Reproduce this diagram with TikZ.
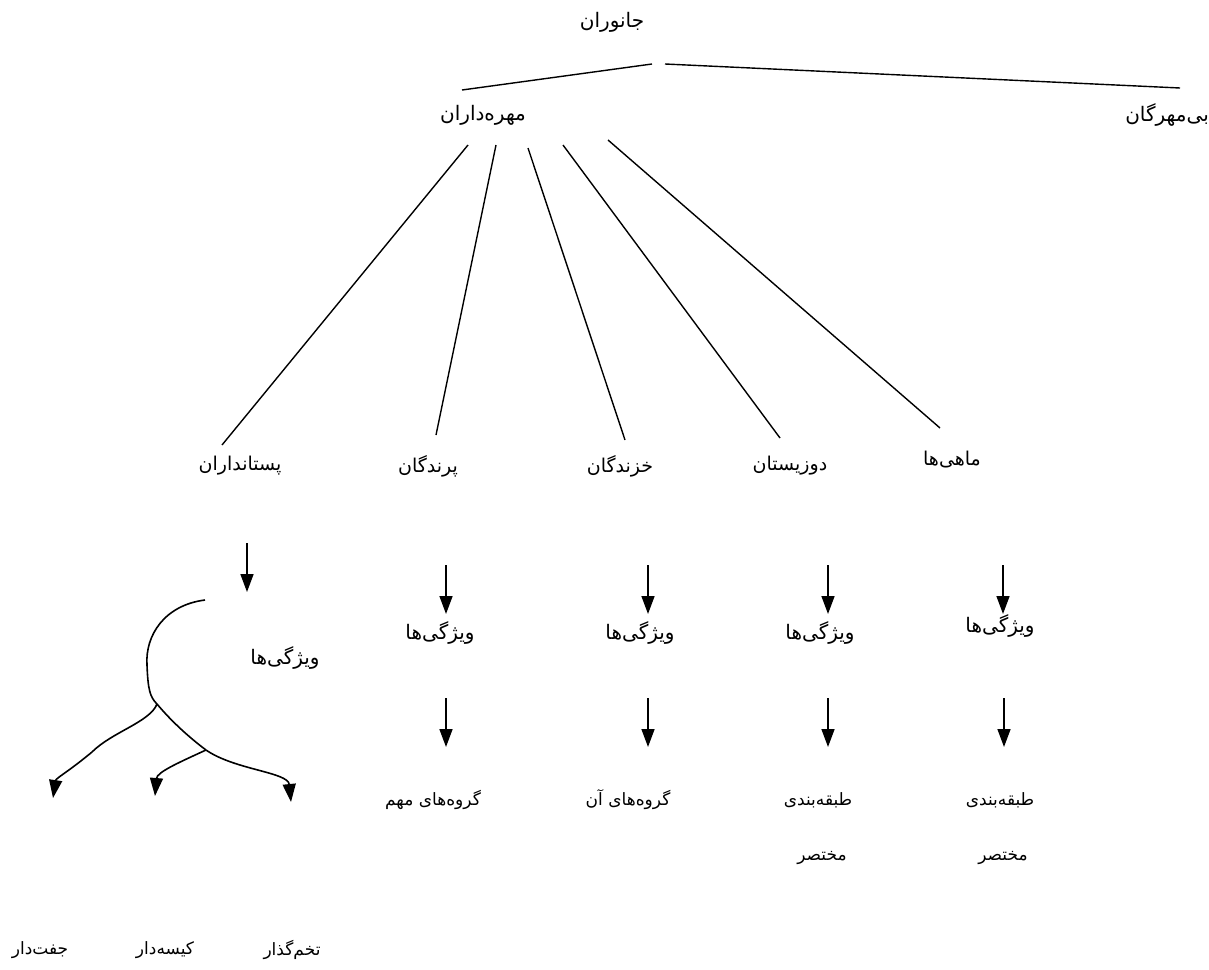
\documentclass[tikz,border=0pt]{standalone}
\usepackage{fontspec}
\usetikzlibrary{arrows.meta}
\TeXXeTstate=1
\newfontfamily\fa[Script=Arabic]{DejaVu Sans}
\tikzset{
  big/.style={font=\fa\fontsize{20}{24}\selectfont, inner sep=1pt},
  mid/.style={font=\fa\fontsize{19}{22}\selectfont, inner sep=1pt},
  feat/.style={font=\fa\fontsize{20}{24}\selectfont, inner sep=1pt},
  low/.style={font=\fa\fontsize{17}{20}\selectfont, inner sep=1pt},
  small/.style={font=\fa\fontsize{17}{20}\selectfont, inner sep=1pt},
  link/.style={line width=1.4pt},
  down/.style={line width=1.6pt, -{Triangle[length=18pt,width=13pt]}},
  hand/.style={line width=1.6pt},
  handarrow/.style={line width=1.6pt, -{Triangle[length=18pt,width=13pt]}}
}
\begin{document}
\begin{tikzpicture}[x=1pt,y=-1pt]
\useasboundingbox (0,0) rectangle (1209,969);
% level 0,1
\node[big] (anim) at (612,22) {\beginR جانوران\endR};
\node[big] (vert) at (483,115) {\beginR مهره‌داران\endR};
\node[big, anchor=east] (invert) at (1210,115) {\beginR بی‌مهرگان\endR};
\coordinate (a1) at (652,64); \coordinate (a2) at (462,90);
\coordinate (b1) at (665,64); \coordinate (b2) at (1180,88);
\draw[link] (a1) -- (a2);
\draw[link] (b1) -- (b2);
% level 2
\node[mid] (mam)  at (240,466) {\beginR پستانداران\endR};
\node[mid] (bird) at (428,466) {\beginR پرندگان\endR};
\node[mid] (rept) at (620,466) {\beginR خزندگان\endR};
\node[mid] (amph) at (790,466) {\beginR دوزیستان\endR};
\node[mid] (fish) at (952,460) {\beginR ماهی‌ها\endR};
\coordinate (v1) at (468,145); \coordinate (m1) at (222,445);
\coordinate (v2) at (496,145); \coordinate (m2) at (436,435);
\coordinate (v3) at (528,148); \coordinate (m3) at (625,440);
\coordinate (v4) at (563,145); \coordinate (m4) at (780,438);
\coordinate (v5) at (608,140); \coordinate (m5) at (940,428);
\draw[link] (v1) -- (m1);
\draw[link] (v2) -- (m2);
\draw[link] (v3) -- (m3);
\draw[link] (v4) -- (m4);
\draw[link] (v5) -- (m5);
% arrows row 1
\coordinate (p0s) at (247,543); \coordinate (p0e) at (247,592);
\coordinate (p1s) at (446,565); \coordinate (p1e) at (446,614);
\coordinate (p2s) at (648,565); \coordinate (p2e) at (648,614);
\coordinate (p3s) at (828,565); \coordinate (p3e) at (828,614);
\coordinate (p4s) at (1003,565); \coordinate (p4e) at (1003,614);
\draw[down] (p0s) -- (p0e);
\draw[down] (p1s) -- (p1e);
\draw[down] (p2s) -- (p2e);
\draw[down] (p3s) -- (p3e);
\draw[down] (p4s) -- (p4e);
% features
\node[feat] (f0) at (285,658) {\beginR ویژگی‌ها\endR};
\node[feat] (f1) at (440,633) {\beginR ویژگی‌ها\endR};
\node[feat] (f2) at (640,633) {\beginR ویژگی‌ها\endR};
\node[feat] (f3) at (820,633) {\beginR ویژگی‌ها\endR};
\node[feat] (f4) at (1000,626) {\beginR ویژگی‌ها\endR};
% arrows row 2
\coordinate (q1s) at (446,698); \coordinate (q1e) at (446,747);
\coordinate (q2s) at (648,698); \coordinate (q2e) at (648,747);
\coordinate (q3s) at (828,698); \coordinate (q3e) at (828,747);
\coordinate (q4s) at (1004,698); \coordinate (q4e) at (1004,747);
\draw[down] (q1s) -- (q1e);
\draw[down] (q2s) -- (q2e);
\draw[down] (q3s) -- (q3e);
\draw[down] (q4s) -- (q4e);
% row 3
\node[low] (g1) at (433,800) {\beginR گروه‌های مهم\endR};
\node[low] (g2) at (628,800) {\beginR گروه‌های آن\endR};
\node[low] (g3) at (818,800) {\beginR طبقه‌بندی\endR};
\node[low] (g3b) at (822,858) {\beginR مختصر\endR};
\node[low] (g4) at (1000,800) {\beginR طبقه‌بندی\endR};
\node[low] (g4b) at (1003,858) {\beginR مختصر\endR};
% mammal branches
\coordinate (c0) at (205,600);
\coordinate (cb) at (157,704);
\coordinate (cs) at (206,750);
\node[small] (t1) at (40,950) {\beginR جفت‌دار\endR};
\node[small] (t2) at (165,950) {\beginR کیسه‌دار\endR};
\node[small] (t3) at (292,950) {\beginR تخم‌گذار\endR};
\coordinate (e1) at (53,798);
\coordinate (e2) at (155,796);
\coordinate (e3) at (291,802);
\draw[hand] (c0) .. controls (165,605) and (145,635) .. (147,665) .. controls (148,690) and (150,697) .. (cb);
\draw[hand] (cb) .. controls (150,722) and (112,732) .. (92,752);
\draw[handarrow] (92,752) .. controls (68,772) and (56,778) .. (e1);
\draw[hand] (cb) .. controls (172,722) and (190,738) .. (cs);
\draw[handarrow] (cs) .. controls (235,770) and (288,772) .. (e3);
\draw[handarrow] (cs) .. controls (180,762) and (157,772) .. (e2);
\end{tikzpicture}
\end{document}
